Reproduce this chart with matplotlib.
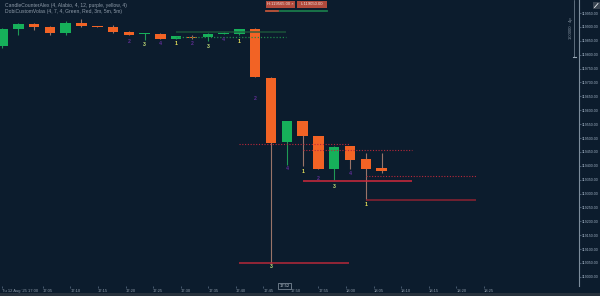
import numpy as np
import matplotlib.pyplot as plt
from matplotlib.patches import Rectangle
from matplotlib.lines import Line2D

plt.rcParams["font.family"] = ["Liberation Sans", "DejaVu Sans"]

# candles: open, high, low, close
opens = [119831, 119893, 119911, 119900, 119878, 119914, 119903, 119900, 119882, 119876,
         119875, 119857, 119864, 119864, 119875, 119873, 119893, 119716, 119486, 119561,
         119507, 119390, 119471, 119425, 119393]
highs = [119896, 119914, 119914, 119903, 119921, 119929, 119904, 119907, 119885, 119878,
         119878, 119868, 119871, 119878, 119880, 119893, 119895, 119718, 119563, 119563,
         119509, 119470, 119472, 119446, 119446]
lows = [119824, 119871, 119889, 119871, 119871, 119900, 119900, 119878, 119870, 119853,
        119856, 119856, 119857, 119849, 119873, 119871, 119718, 119050, 119403, 119399,
        119388, 119349, 119389, 119277, 119374]
closes = [119893, 119911, 119900, 119878, 119914, 119903, 119901, 119882, 119871, 119878,
          119857, 119867, 119860, 119875, 119878, 119891, 119720, 119483, 119561, 119507,
          119390, 119469, 119421, 119389, 119382]

# candle counter labels
count_idx = [8, 9, 10, 11, 12, 13, 14, 15, 16, 17, 18, 19, 20, 21, 22, 23]
count_text = ["2", "3", "4", "1", "2", "3", "4", "1", "2", "3", "4", "1", "2", "3", "4", "1"]
count_price = [119846, 119835, 119842, 119839, 119842, 119828, 119853, 119849,
               119641, 119036, 119389, 119381, 119353, 119327, 119371, 119259]

# levels drawn from a start candle
green_start = 11
green_solid = 119883
green_dotted = 119865
red_start = [15, 19, 23]
red_dotted = [119477, 119456, 119362]
red_solid = [119050, 119346, 119276]
level_len = 6.95

price_ticks = list(range(119950, 118999, -50))
time_labels = ["Tu 12 Aug '25 17:00", "17:05", "17:10", "17:15", "17:20", "17:25",
               "17:30", "17:35", "17:40", "17:45", "17:50", "17:55", "18:00", "18:05",
               "18:10", "18:15", "18:20", "18:25"]

BG = "#0c1c2d"
UP = "#16b05a"
DOWN = "#f26325"
TXT = "#8d9aa8"

W, H = 600, 296
fig = plt.figure(figsize=(6, 2.96), dpi=100)
fig.patch.set_facecolor(BG)


def fx(px):
    return px / W


def fy(py):
    return 1 - py / H


ax = fig.add_axes([0, fy(286), fx(579), 286 / H])
ax.set_facecolor(BG)
ax.set_xlim(-0.158, 36.49)
ax.set_ylim(118967, 119997)

x = np.arange(len(opens))
o = np.array(opens)
c = np.array(closes)
colors = [UP if cc >= oo else DOWN for oo, cc in zip(o, c)]
wick_colors = ["#1f9a55" if cc >= oo else "#9a7468" for oo, cc in zip(o, c)]

ax.vlines(x, lows, highs, colors=wick_colors, lw=0.8, zorder=2)
body_h = np.maximum(np.abs(c - o), 3)
ax.bar(x, body_h, bottom=np.minimum(o, c), width=0.66, color=colors, lw=0, zorder=3)

# green levels
ax.hlines(green_solid, green_start, green_start + level_len, colors="#1d5a3c", lw=1.2,
          alpha=0.8, zorder=4)
ax.hlines(green_dotted, green_start, green_start + level_len, colors="#1f8a4a", lw=0.9,
          linestyles=(0, (1, 1.5)), zorder=4)

# red levels
for s, d, sl, col in zip(red_start, red_dotted, red_solid, ["#b8283a", "#d22a3c", "#8c2232"]):
    ax.hlines(d, s, s + level_len, colors="#b8283a", lw=0.8, linestyles=(0, (1, 1.5)), zorder=4)
    ax.hlines(sl, s, s + level_len, colors=col, lw=1.1, zorder=4)

label_colors = {"1": "#e8e35a", "2": "#5d2d92", "3": "#c8e27a", "4": "#5d2d92"}
for i, t, p in zip(count_idx, count_text, count_price):
    ax.text(i, p, t, color=label_colors[t], fontsize=3.8, ha="center", va="center",
            fontweight="bold", zorder=5)

# right price axis
for sp in ["top", "left", "bottom"]:
    ax.spines[sp].set_visible(False)
ax.spines["right"].set_color("#7d8d9c")
ax.spines["right"].set_linewidth(0.8)
ax.yaxis.tick_right()
ax.set_yticks(price_ticks)
ax.set_yticklabels([f"{v:.2f}" for v in price_ticks])
ax.tick_params(axis="y", colors="#5d7188", labelcolor="#9fb0c2", labelsize=2.6,
               length=1.2, width=0.5, pad=0.6)

# time axis
tick_pos = 2.56 + 1.744 * np.arange(len(time_labels) - 1)
ax.set_xticks(np.concatenate([[-0.03], tick_pos]))
ax.set_xticklabels(time_labels)
ax.tick_params(axis="x", colors="#5d7188", labelcolor=TXT, labelsize=3.0,
               length=1.5, width=0.5, pad=1.0, direction="out")
for lab in ax.get_xticklabels():
    lab.set_horizontalalignment("left")

# legend lines
fig.text(fx(5), fy(5), "CandleCounterAlex (4, Alabio, 4, 12, purple, yellow, 4)",
         color=TXT, fontsize=3.6, va="center", ha="left")
fig.text(fx(5), fy(12), "DobiCustomVolas (4, 7, 4, Green, Red, 3m, 5m, 5m)",
         color=TXT, fontsize=3.6, va="center", ha="left")

# hover boxes at top
for x0, x1, txt in [(266, 295, "H:119565.00 ×"), (297, 327, "L:119050.00")]:
    fig.add_artist(Rectangle((fx(x0), fy(7.5)), fx(x1 - x0), 6.5 / H,
                             facecolor="#b24a3c", edgecolor="none"))
    fig.text(fx((x0 + x1) / 2), fy(4), txt, color="#f0e0dc", fontsize=3.0,
             ha="center", va="center")
fig.add_artist(Line2D([fx(266), fx(278)], [fy(10.5)] * 2, color="#c0553a", lw=1.3))
fig.add_artist(Line2D([fx(280), fx(327)], [fy(10.5)] * 2, color="#1a7a4a", lw=1.3))

# scale marker at top right
fig.add_artist(Line2D([fx(574), fx(574)], [fy(0), fy(57)], color="#7d8d9c", lw=0.5))
fig.add_artist(Line2D([fx(572.5), fx(575.5)], [fy(57)] * 2, color="#9aa9b6", lw=0.8))
fig.text(fx(571), fy(28), "100000 · 4p", color=TXT, fontsize=3.0, rotation=90,
         ha="center", va="center")
fig.add_artist(Rectangle((fx(593), fy(9)), fx(6.5), 7 / H, facecolor="#3a4552",
                         edgecolor="none"))
fig.add_artist(Line2D([fx(594.5), fx(598)], [fy(7.5), fy(3.5)], color="#e8eef2", lw=0.6))

# cursor time box
fig.add_artist(Rectangle((fx(278), fy(289)), fx(13), 6 / H, facecolor=BG,
                         edgecolor="#8d9aa8", lw=0.5))
fig.text(fx(284.5), fy(286), "17:52", color="#c7d0d8", fontsize=3.0, ha="center", va="center")

# bottom strip
fig.add_artist(Rectangle((0, 0), 1, 3.5 / H, facecolor="#27313c", edgecolor="none"))

fig.savefig("out.png", dpi=100, facecolor=BG)
